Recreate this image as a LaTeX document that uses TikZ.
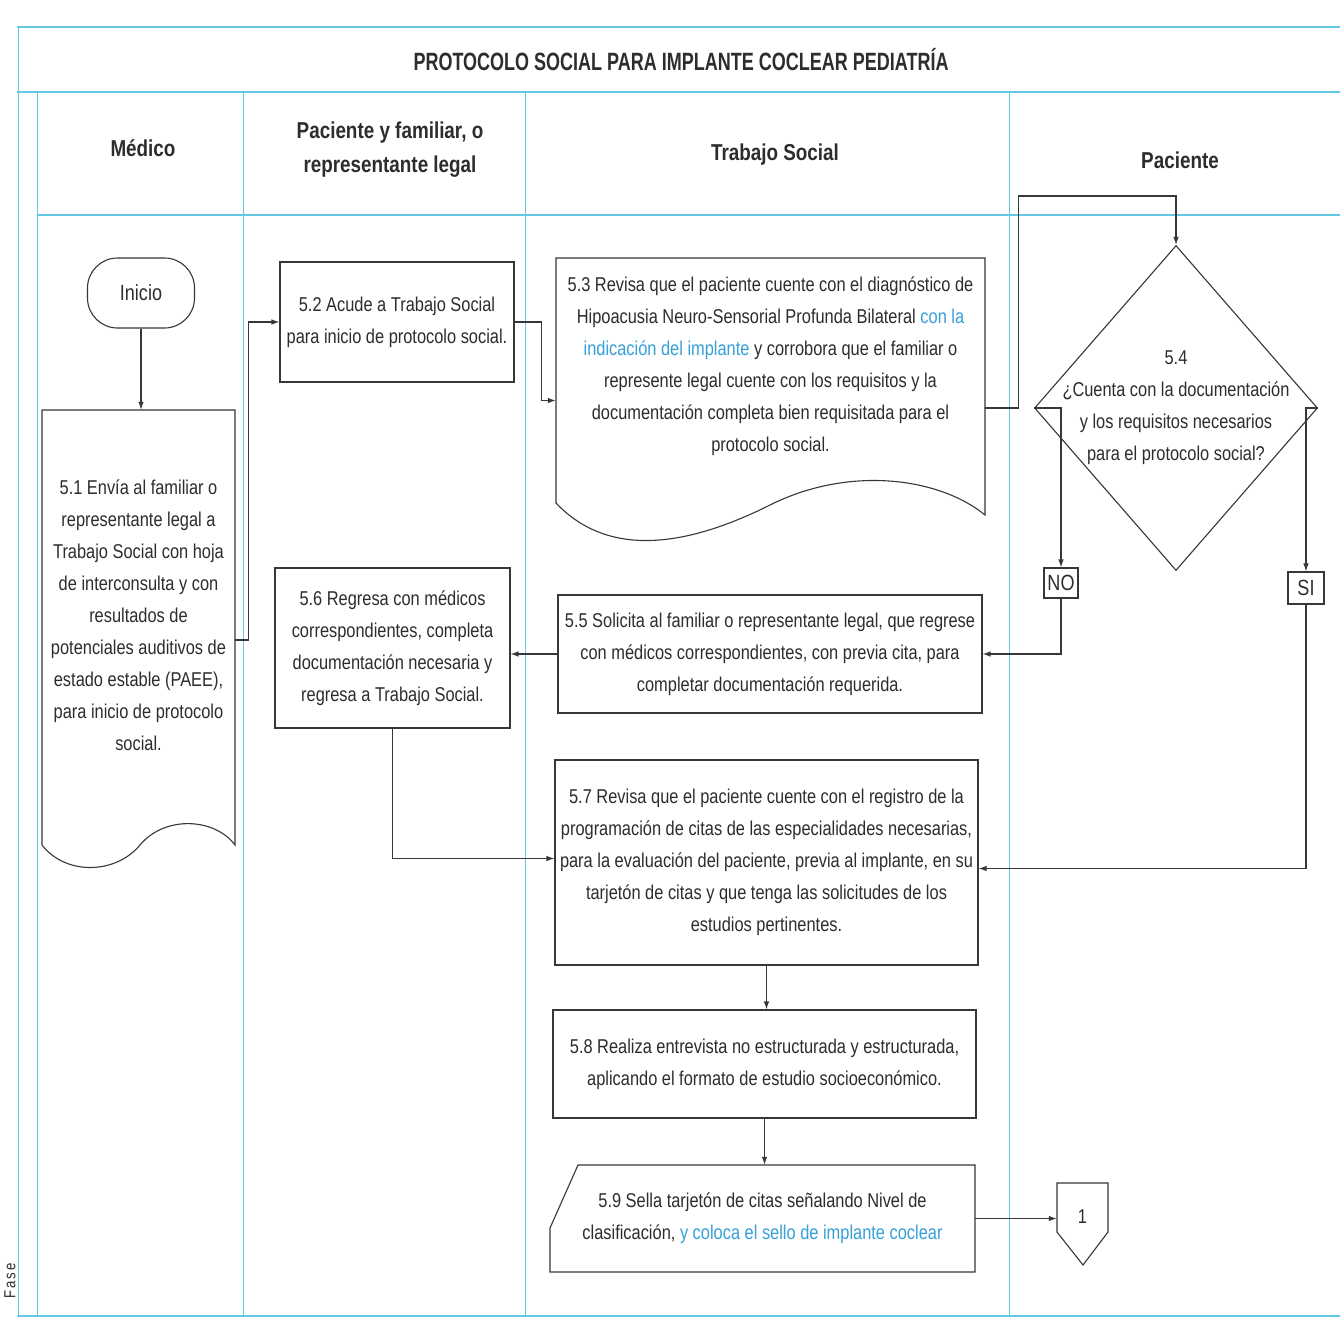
\documentclass[tikz,border=0pt]{standalone}
\usepackage{fontspec}
\setmainfont[FakeStretch=0.82]{Liberation Sans}
\newfontfamily\titlefont[FakeStretch=0.72]{Liberation Sans}
\usetikzlibrary{shapes.geometric,arrows.meta,calc}
\definecolor{lane}{RGB}{100,200,228}
\definecolor{txt}{RGB}{45,45,45}
\definecolor{lnk}{RGB}{55,160,215}
\definecolor{edge}{RGB}{55,55,55}
\begin{document}
\begin{tikzpicture}[x=1pt,y=-1pt,
  every node/.style={text=txt},
  body/.style={font=\fontsize{20}{32}\selectfont, align=center, inner sep=0pt},
  box/.style={body, draw=edge, line width=1.1pt},
  shp/.style={draw=edge, line width=1.1pt},
  conn/.style={draw=edge, line width=1.1pt, -{Latex[length=8pt,width=5.5pt]}},
  lanel/.style={draw=lane, line width=1pt},
  laneb/.style={draw=lane, line width=2.5pt},
  head/.style={font=\fontsize{23}{34}\selectfont\bfseries, align=center}]
\fill[white] (0,0) rectangle (1340,1327);
\useasboundingbox (0,0) rectangle (1340,1327);
% lanes
\draw[laneb] (17,27) -- (1340,27);
\draw[laneb] (17,92) -- (1340,92);
\draw[laneb] (37,215) -- (1340,215);
\draw[laneb] (17,1316) -- (1340,1316);
\draw[lanel] (18,27) -- (18,1316);
\draw[lanel] (37,92) -- (37,1316);
\draw[lanel] (243,92) -- (243,1316);
\draw[lanel] (525,92) -- (525,1316);
\draw[lanel] (1009,92) -- (1009,1316);
% titles
\node[font=\titlefont\fontsize{25}{30}\selectfont\bfseries] (title) at (681,60) {PROTOCOLO SOCIAL PARA IMPLANTE COCLEAR PEDIATRÍA};
\node[head] (h1) at (143,148) {Médico};
\node[head] (h2) at (390,150) {Paciente y familiar, o\\representante legal};
\node[head] (h3) at (775,155) {Trabajo Social};
\node[head] (h4) at (1180,160) {Paciente};
\node[font=\fontsize{16}{18}\selectfont\addfontfeature{LetterSpace=12}, rotate=90] (fase) at (10,1281) {Fase};
% nodes
\node[shp, body, rounded corners=30pt, minimum width=107pt, minimum height=70pt, font=\fontsize{22}{28}\selectfont] (inicio) at (141,293) {Inicio};
\node[body, minimum width=193pt, minimum height=410pt] (n51) at (138.5,615) {5.1 Envía al familiar o\\representante legal a\\Trabajo Social con hoja\\de interconsulta y con\\resultados de\\potenciales auditivos de\\estado estable (PAEE),\\para inicio de protocolo\\social.};
\draw[shp] (42,845) -- (42,410) -- (235,410) -- (235,845) .. controls (215,818) and (165,815) .. (140,845) .. controls (115,875) and (65,875) .. (42,845);
\node[box, minimum width=234pt, minimum height=120pt] (n52) at (397,322) {5.2 Acude a Trabajo Social\\para inicio de protocolo social.};
\node[body, minimum width=429pt, minimum height=217pt] (n53) at (770.5,366.5) {5.3 Revisa que el paciente cuente con el diagnóstico de\\Hipoacusia Neuro-Sensorial Profunda Bilateral \textcolor{lnk}{con la}\\\textcolor{lnk}{indicación del implante} y corrobora que el familiar o\\represente legal cuente con los requisitos y la\\documentación completa bien requisitada para el\\protocolo social.};
\draw[shp] (556,503) -- (556,258) -- (985,258) -- (985,515) .. controls (940,478) and (850,465) .. (770,505) .. controls (690,545) and (610,560) .. (556,503);
\node[shp, diamond, minimum width=283pt, minimum height=325pt, inner sep=0pt] (n54) at (1176,408) {};
\node[body] (n54t) at (1176,408) {5.4\\¿Cuenta con la documentación\\y los requisitos necesarios\\para el protocolo social?};
\node[box, font=\fontsize{22}{26}\selectfont, minimum width=34pt, minimum height=30pt] (no) at (1061,583) {NO};
\node[box, font=\fontsize{22}{26}\selectfont, minimum width=36pt, minimum height=32pt] (si) at (1306,588) {SI};
\node[box, minimum width=424pt, minimum height=118pt] (n55) at (770,654) {5.5 Solicita al familiar o representante legal, que regrese\\con médicos correspondientes, con previa cita, para\\completar documentación requerida.};
\node[box, minimum width=235pt, minimum height=160pt] (n56) at (392.5,648) {5.6 Regresa con médicos\\correspondientes, completa\\documentación necesaria y\\regresa a Trabajo Social.};
\node[box, minimum width=423pt, minimum height=205pt] (n57) at (766.5,862.5) {5.7 Revisa que el paciente cuente con el registro de la\\programación de citas de las especialidades necesarias,\\para la evaluación del paciente, previa al implante, en su\\tarjetón de citas y que tenga las solicitudes de los\\estudios pertinentes.};
\node[box, minimum width=423pt, minimum height=108pt] (n58) at (764.5,1064) {5.8 Realiza entrevista no estructurada y estructurada,\\aplicando el formato de estudio socioeconómico.};
\node[body, minimum width=425pt, minimum height=107pt] (n59) at (762.5,1218.5) {5.9 Sella tarjetón de citas señalando Nivel de\\clasificación, \textcolor{lnk}{y coloca el sello de implante coclear}};
\draw[shp] (578,1165) -- (975,1165) -- (975,1272) -- (550,1272) -- (550,1228) -- cycle;
\node[font=\fontsize{20}{24}\selectfont, minimum width=51pt, minimum height=67pt, inner sep=0pt] (off1) at (1082.5,1216.5) {1};
\draw[shp] (1057,1183) -- (1108,1183) -- (1108,1232) -- (1083,1265) -- (1057,1232) -- cycle;
% connectors
\draw[conn] (inicio.south) -- (inicio.south |- n51.north);
\draw[conn] ([yshift=-25pt]n51.east) -- ++(13,0) |- (n52.west);
\draw[conn] (n52.east) -- ++(27,0) |- ([yshift=-34pt]n53.west);
\draw[conn] (n53.east |- n54.west) -- ++(33,0) -- ++(0,-212) -| (n54.north);
\draw[conn] (n54.west) -| (no.north);
\draw[conn] (no.south) |- (n55.east);
\draw[conn] (n54.east) -| (si.north);
\draw[conn] (si.south) |- ([yshift=-6pt]n57.east);
\draw[conn] (n55.west) -- (n55.west -| n56.east);
\draw[conn] (n56.south) |- ([yshift=4pt]n57.west);
\draw[conn] (n57.south) -- (n57.south |- n58.north);
\draw[conn] (n58.south) -- (n58.south |- n59.north);
\draw[conn] (n59.east) -- (n59.east -| off1.west);
\end{tikzpicture}
\end{document}
